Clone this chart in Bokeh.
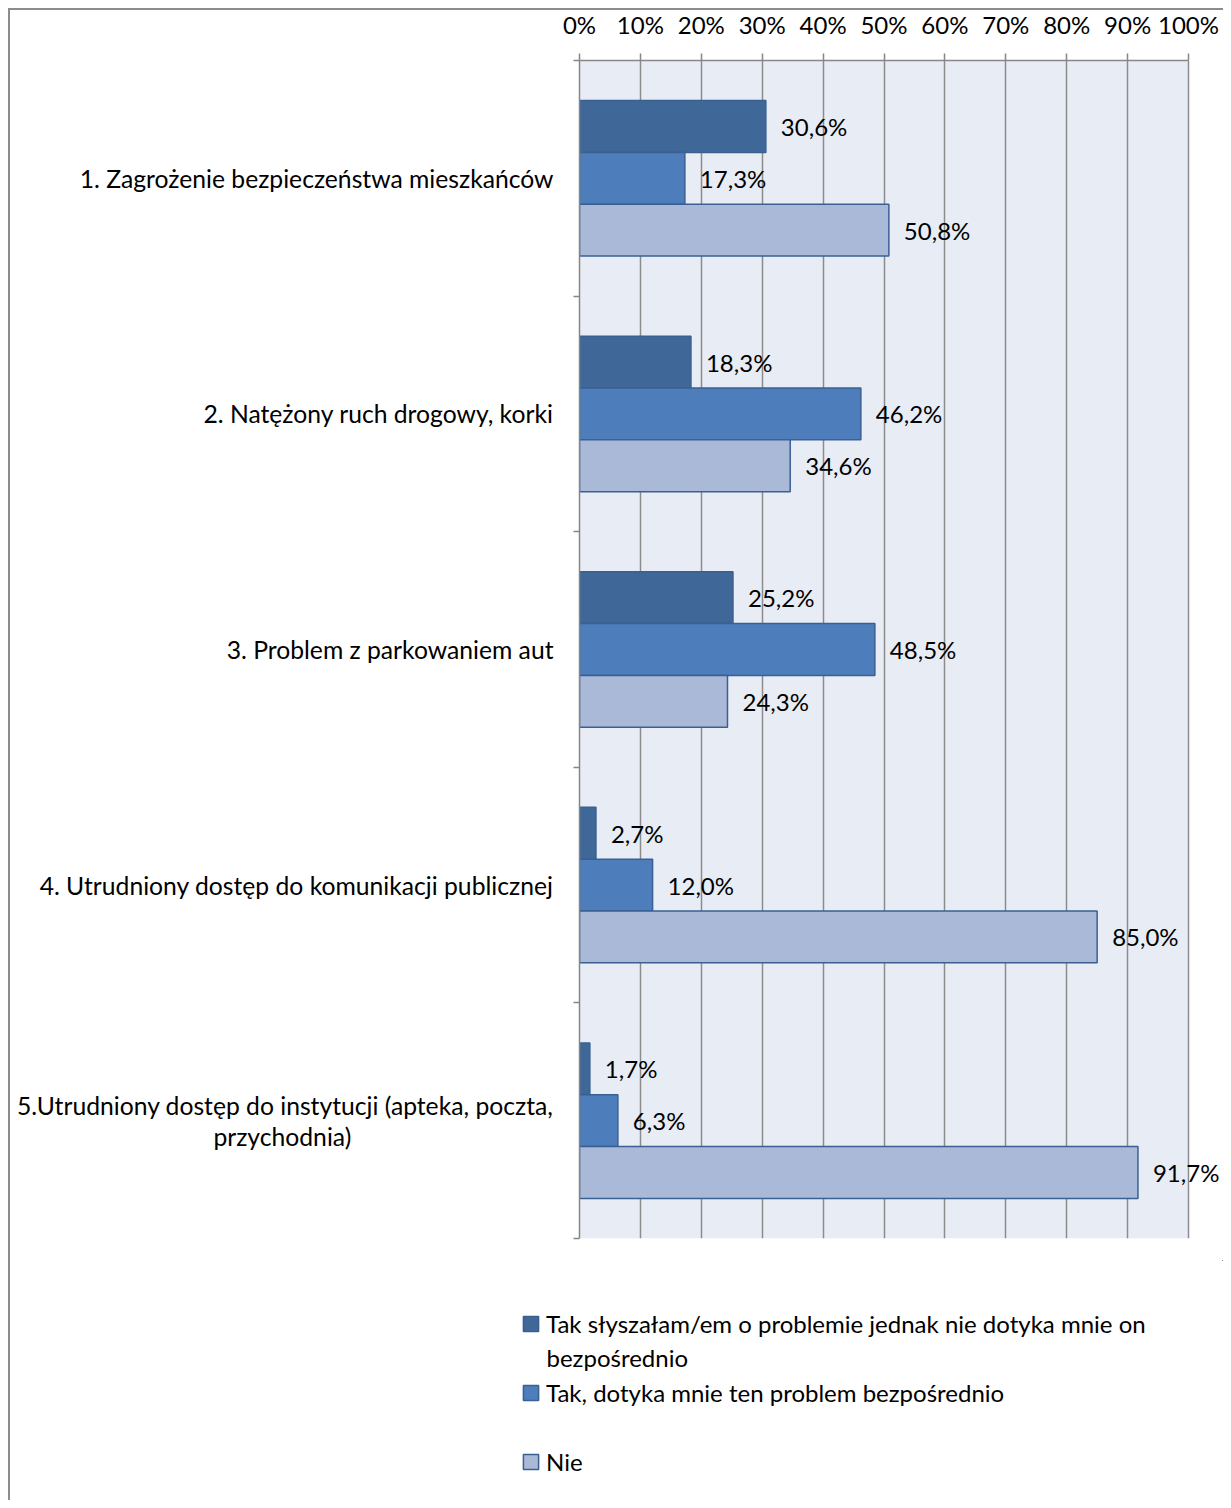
from bokeh.plotting import figure
from bokeh.layouts import column
from bokeh.models import (Range1d, FixedTicker, ColumnDataSource, Legend, LegendItem,
                          CustomJSTickFormatter, BoxAnnotation, Label)
from bokeh.transform import dodge
from bokeh.core.properties import value
from bokeh.embed import file_html
from bokeh.resources import INLINE

categories = [
    "1. Zagrożenie bezpieczeństwa mieszkańców",
    "2. Natężony ruch drogowy, korki",
    "3. Problem z parkowaniem aut",
    "4. Utrudniony dostęp do komunikacji publicznej",
    "5.Utrudniony dostęp do instytucji (apteka, poczta,\nprzychodnia)" + "\u00a0" * 32,
]
series_names = [
    "Tak słyszałam/em o problemie jednak nie dotyka mnie on",
    "Tak, dotyka mnie ten problem bezpośrednio",
    "Nie",
]
series_name_cont = "bezpośrednio"
heard = [30.6, 18.3, 25.2, 2.7, 1.7]
affected = [17.3, 46.2, 48.5, 12.0, 6.3]
no = [50.8, 34.6, 24.3, 85.0, 91.7]
x_ticks = [0, 10, 20, 30, 40, 50, 60, 70, 80, 90, 100]

colors = ["#3F6797", "#4D7EBB", "#AAB9D7"]
edge = "#3A6092"
FONT = "Lato"
FS = "24px"
FS_CAT = "24.7px"
GRAY = "#8C8C8C"

pos = [i + 0.5 for i in range(len(categories))]
bounds = [i for i in range(len(categories) + 1)]

def fmt(v):
    return ("%.1f" % v).replace(".", ",") + "%"

src = ColumnDataSource(dict(
    pos=pos, heard=heard, affected=affected, no=no,
    heard_l=[fmt(v) for v in heard],
    affected_l=[fmt(v) for v in affected],
    no_l=[fmt(v) for v in no],
))

W, H = 1223, 1500
H1 = 1260
FL, FT, FR100, FB = 579, 60, 1188, 1238
x_end = 100 * (W - FL) / (FR100 - FL)

p = figure(width=W, height=H1, output_backend="svg", toolbar_location=None,
           x_range=Range1d(0, x_end), y_range=Range1d(5, 0), x_axis_location="above",
           min_border_left=FL, min_border_right=0, min_border_top=FT, min_border_bottom=H1 - FB)
p.frame_align = False
p.outline_line_color = None
p.background_fill_color = "white"
p.border_fill_alpha = 0
p.styles = {
    "background": f"linear-gradient({GRAY},{GRAY}) 8px 8px / 2px 100% no-repeat, "
                  f"linear-gradient({GRAY},{GRAY}) 8px 8px / 100% 2px no-repeat, white",
}

p.add_layout(BoxAnnotation(left=0, right=100, fill_color="#E8ECF4", fill_alpha=1,
                           line_color=None, level="image"))

# x axis (top)
xa = p.xaxis[0]
xa.bounds = (0, 100)
xa.ticker = FixedTicker(ticks=x_ticks)
xa.formatter = CustomJSTickFormatter(code="return tick.toFixed(0) + '%';")
xa.axis_line_color = "#868686"
xa.axis_line_width = 1.5
xa.major_tick_line_color = "#868686"
xa.major_tick_line_width = 1.5
xa.major_tick_out = 7
xa.major_tick_in = 0
xa.minor_tick_line_color = None
xa.major_label_text_font = FONT
xa.major_label_text_font_size = FS
xa.major_label_text_color = "black"
xa.major_label_standoff = 15

# y axis (left)
ya = p.yaxis[0]
ya.ticker = FixedTicker(ticks=pos, minor_ticks=bounds)
ya.major_label_overrides = {pv: c for pv, c in zip(pos, categories)}
ya.axis_line_color = "#868686"
ya.axis_line_width = 1.5
ya.major_tick_line_color = None
ya.minor_tick_line_color = "#868686"
ya.minor_tick_line_width = 1.5
ya.minor_tick_out = 6
ya.minor_tick_in = 0
ya.major_label_text_font = FONT
ya.major_label_text_font_size = FS_CAT
ya.major_label_text_line_height = 1.06
ya.major_label_text_color = "black"
ya.major_label_standoff = 20

p.xgrid.ticker = FixedTicker(ticks=x_ticks)
p.xgrid.grid_line_color = GRAY
p.xgrid.grid_line_width = 1.5
p.ygrid.visible = False

h = 0.22
offs = [-h, 0.0, h]
fields = ["heard", "affected", "no"]
for f, o, c in zip(fields, offs, colors):
    p.hbar(y=dodge("pos", o, range=p.y_range), left=0, right=f, height=h, source=src,
           fill_color=c, line_color=edge, line_width=1.5)
    p.text(x=f, y=dodge("pos", o, range=p.y_range), text=f + "_l", source=src,
           x_offset=15, text_align="left", text_baseline="middle",
           text_font=value(FONT), text_font_size=FS, text_color="black")

# legend panel (its own small plot so the legend is not clipped by the main frame);
# its ranges keep the series' bars out of view, only the legend swatches show
H2 = H - H1
p2 = figure(width=W, height=H2, output_backend="svg", toolbar_location=None,
            x_range=Range1d(-300, -200), y_range=Range1d(-300, -200),
            x_axis_location=None, y_axis_location=None, min_border=0)
p2.frame_align = False
p2.grid.visible = False
p2.outline_line_color = None
p2.background_fill_alpha = 0
p2.border_fill_alpha = 0
p2.styles = {"background": f"linear-gradient({GRAY},{GRAY}) 8px 0px / 2px 100% no-repeat, white"}

legend_rs = [p2.hbar(y="pos", left=0, right=f, height=h, source=src,
                     fill_color=c, line_color=edge, line_width=1.5)
             for f, c in zip(fields, colors)]
LBL_H, SP, N = 32, 37, len(series_names)
leg_h = N * LBL_H + (N - 1) * SP
leg_top = 47
lg = Legend(items=[LegendItem(label=n, renderers=[r]) for n, r in zip(series_names, legend_rs)],
            location=(521, H2 - leg_top - leg_h), orientation="vertical", spacing=SP,
            padding=0, margin=0, border_line_color=None, background_fill_alpha=0,
            glyph_width=19, glyph_height=19, label_standoff=6,
            label_text_font=FONT, label_text_font_size=FS, label_text_color="black",
            label_height=LBL_H)
p2.add_layout(lg)
p2.add_layout(Label(x=546, y=H2 - 97, x_units="screen", y_units="screen", text=series_name_cont,
                    text_font=FONT, text_font_size=FS, text_color="black",
                    text_baseline="middle", text_align="left"))

layout = column(p, p2, spacing=0)
open("out.html", "w").write(file_html(layout, INLINE))
